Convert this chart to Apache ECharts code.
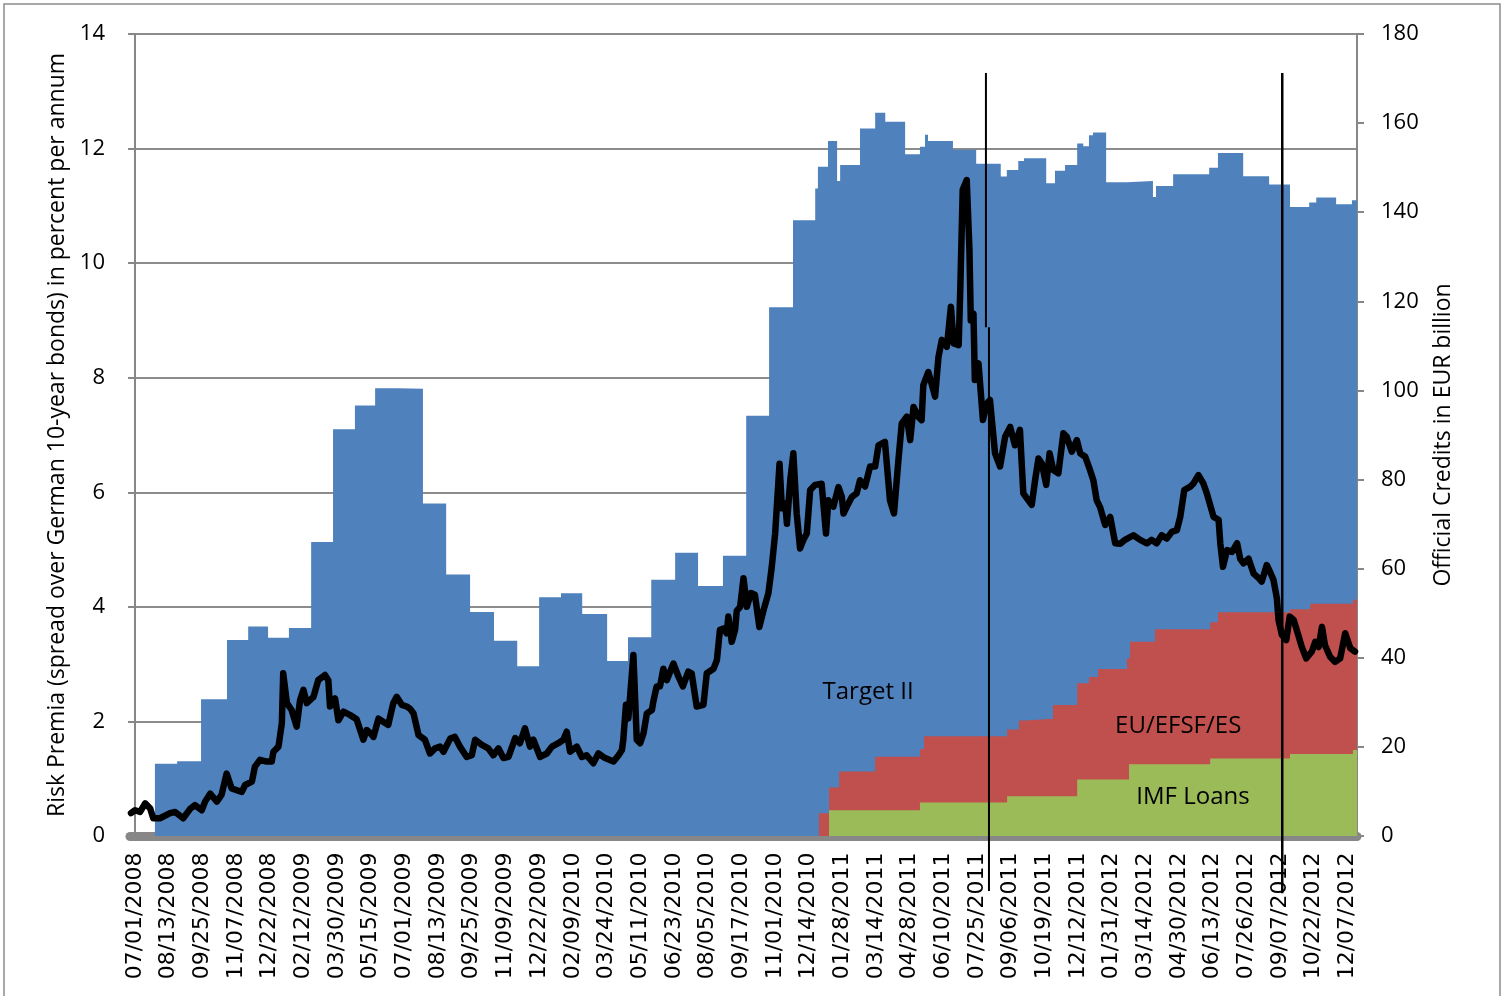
<!DOCTYPE html>
<html>
<head>
<meta charset="utf-8">
<script src="https://cdn.jsdelivr.net/npm/echarts@6/dist/echarts.min.js"></script>
<style>
  html, body { margin: 0; padding: 0; background: #fff; }
  #main { width: 1506px; height: 996px; }
</style>
</head>
<body>
<div id="main"></div>
<script>
// x positions are in label steps: one tick label every 31 trading days
const dateLabels = [
  '07/01/2008', '08/13/2008', '09/25/2008', '11/07/2008', '12/22/2008',
  '02/12/2009', '03/30/2009', '05/15/2009', '07/01/2009', '08/13/2009',
  '09/25/2009', '11/09/2009', '12/22/2009', '02/09/2010', '03/24/2010',
  '05/11/2010', '06/23/2010', '08/05/2010', '09/17/2010', '11/01/2010',
  '12/14/2010', '01/28/2011', '03/14/2011', '04/28/2011', '06/10/2011',
  '07/25/2011', '09/06/2011', '10/19/2011', '12/12/2011', '01/31/2012',
  '03/14/2012', '04/30/2012', '06/13/2012', '07/26/2012', '09/07/2012',
  '10/22/2012', '12/07/2012'
];
const leftTicks = [0, 2, 4, 6, 8, 10, 12, 14];
const rightTicks = [0, 20, 40, 60, 80, 100, 120, 140, 160, 180];

// total official credits (top of the blue area), EUR bn, monthly steps
const targetTop = [
  [0.59, 16.2], [1.25, 16.8], [1.96, 30.7], [2.73, 44.0], [3.36, 47.0], [3.95, 44.5],
  [4.57, 46.7], [5.23, 66.0], [5.88, 91.3], [6.53, 96.6], [7.13, 100.5], [7.81, 100.4],
  [8.55, 74.6], [9.24, 58.7], [9.95, 50.3], [10.66, 43.8], [11.35, 38.1], [12.0, 53.6],
  [12.65, 54.5], [13.28, 49.8], [14.02, 39.3], [14.64, 44.6], [15.33, 57.5], [16.04, 63.6],
  [16.72, 56.1], [17.46, 62.9], [18.15, 94.3], [18.83, 118.7], [19.54, 138.2], [20.2, 145.3],
  [20.28, 150.2], [20.58, 156.0], [20.85, 147.0], [20.94, 150.6], [21.53, 158.8], [21.98, 162.3],
  [22.28, 160.3], [22.87, 153.0], [23.31, 154.7], [23.46, 157.4], [23.55, 156.0], [24.29, 154.0],
  [24.98, 150.9], [25.71, 148.0], [25.89, 149.5], [26.23, 151.5], [26.4, 152.1], [27.06, 146.5],
  [27.32, 149.3], [27.62, 150.6], [27.98, 155.4], [28.16, 154.8], [28.33, 157.3], [28.45, 157.9],
  [28.84, 146.7], [29.46, 147.0], [30.23, 143.4], [30.32, 145.9], [30.83, 148.5], [31.9, 150.0],
  [32.16, 153.3], [32.91, 148.1], [33.68, 146.2], [34.3, 141.2], [34.87, 142.2], [35.08, 143.3],
  [35.67, 141.8], [36.14, 142.7], [36.29, 142.7]
];
// EU/EFSF/ES (top of red area)
const euTop = [
  [20.31, 5.1], [20.61, 10.9], [20.91, 14.5], [21.98, 17.8], [23.31, 19.5], [23.43, 22.4],
  [25.9, 23.9], [26.25, 25.9], [26.43, 26.3], [27.26, 29.4], [27.98, 34.3], [28.33, 35.7],
  [28.6, 37.5], [29.46, 39.9], [29.55, 43.6], [30.29, 46.4], [31.93, 48.0], [32.16, 50.2],
  [34.3, 50.9], [34.9, 52.1], [36.17, 53.0], [36.29, 53.0]
];
// IMF loans (green area)
const imfTop = [
  [20.61, 5.8], [23.31, 7.5], [25.9, 8.9], [27.98, 12.7], [29.52, 16.1],
  [31.93, 17.4], [34.3, 18.4], [36.17, 19.3], [36.29, 19.3]
];

// spread over German 10-year bonds, percent
const spread = [
  [-0.12, 0.40], [0.00, 0.45], [0.15, 0.42], [0.30, 0.57], [0.45, 0.48], [0.54, 0.31],
  [0.74, 0.31], [1.04, 0.40], [1.19, 0.42], [1.43, 0.31], [1.63, 0.47], [1.78, 0.54],
  [1.98, 0.45], [2.08, 0.60], [2.23, 0.74], [2.43, 0.60], [2.57, 0.72], [2.72, 1.09],
  [2.87, 0.83], [3.17, 0.77], [3.27, 0.89], [3.47, 0.95], [3.56, 1.21], [3.71, 1.33],
  [3.91, 1.30], [4.06, 1.30], [4.11, 1.47], [4.26, 1.56], [4.36, 1.97], [4.40, 2.84],
  [4.51, 2.32], [4.65, 2.20], [4.80, 1.91], [4.90, 2.37], [5.00, 2.55], [5.10, 2.32],
  [5.30, 2.43], [5.44, 2.72], [5.64, 2.81], [5.74, 2.72], [5.79, 2.26], [5.94, 2.40],
  [6.04, 2.02], [6.19, 2.17], [6.39, 2.11], [6.58, 2.04], [6.78, 1.68], [6.88, 1.85],
  [6.98, 1.80], [7.08, 1.73], [7.23, 2.05], [7.38, 1.99], [7.52, 1.94], [7.67, 2.32],
  [7.77, 2.43], [7.92, 2.29], [8.07, 2.26], [8.17, 2.22], [8.27, 2.14], [8.42, 1.76],
  [8.61, 1.68], [8.76, 1.44], [8.91, 1.53], [9.06, 1.56], [9.16, 1.47], [9.36, 1.70],
  [9.50, 1.73], [9.65, 1.56], [9.85, 1.38], [10.00, 1.41], [10.10, 1.68], [10.30, 1.59],
  [10.49, 1.53], [10.64, 1.41], [10.79, 1.53], [10.94, 1.36], [11.09, 1.38], [11.29, 1.71],
  [11.43, 1.62], [11.58, 1.88], [11.73, 1.56], [11.83, 1.68], [12.03, 1.38], [12.23, 1.44],
  [12.38, 1.56], [12.57, 1.62], [12.72, 1.68], [12.82, 1.82], [12.92, 1.47], [13.12, 1.56],
  [13.27, 1.38], [13.41, 1.41], [13.61, 1.27], [13.76, 1.44], [13.96, 1.36], [14.21, 1.30],
  [14.36, 1.41], [14.46, 1.50], [14.50, 1.68], [14.58, 2.29], [14.65, 2.05], [14.80, 3.16],
  [14.90, 1.68], [15.00, 1.62], [15.10, 1.79], [15.20, 2.14], [15.35, 2.20], [15.39, 2.34],
  [15.49, 2.61], [15.59, 2.61], [15.69, 2.92], [15.79, 2.72], [15.99, 3.01], [16.14, 2.78],
  [16.27, 2.61], [16.43, 2.87], [16.53, 2.84], [16.68, 2.26], [16.88, 2.29], [16.98, 2.84],
  [17.18, 2.92], [17.28, 3.07], [17.37, 3.60], [17.47, 3.62], [17.57, 3.54], [17.62, 3.83],
  [17.72, 3.39], [17.82, 3.60], [17.87, 3.93], [17.97, 4.00], [18.07, 4.50], [18.17, 4.00],
  [18.29, 4.24], [18.41, 4.21], [18.54, 3.65], [18.66, 3.93], [18.81, 4.24], [18.91, 4.70],
  [19.01, 5.28], [19.14, 6.50], [19.21, 5.72], [19.31, 5.80], [19.36, 5.45], [19.46, 6.22],
  [19.55, 6.68], [19.65, 5.63], [19.75, 5.02], [19.85, 5.17], [19.95, 5.28], [20.05, 6.04],
  [20.20, 6.13], [20.39, 6.15], [20.52, 5.28], [20.59, 5.86], [20.74, 5.75], [20.89, 6.09],
  [20.99, 5.92], [21.04, 5.63], [21.14, 5.75], [21.29, 5.92], [21.43, 5.98], [21.53, 6.21],
  [21.68, 6.10], [21.83, 6.45], [21.98, 6.45], [22.08, 6.82], [22.27, 6.88], [22.42, 5.86],
  [22.54, 5.63], [22.67, 6.56], [22.77, 7.20], [22.92, 7.32], [23.02, 6.91], [23.12, 7.49],
  [23.26, 7.32], [23.36, 7.26], [23.41, 7.87], [23.56, 8.10], [23.76, 7.67], [23.86, 8.36],
  [23.96, 8.66], [24.11, 8.54], [24.23, 9.24], [24.31, 8.60], [24.46, 8.57], [24.51, 9.59],
  [24.58, 11.28], [24.70, 11.45], [24.78, 10.23], [24.82, 9.00], [24.90, 9.12], [24.94, 7.96],
  [25.05, 8.25], [25.18, 7.26], [25.30, 7.55], [25.39, 7.61], [25.54, 6.68], [25.69, 6.45],
  [25.84, 6.97], [25.99, 7.14], [26.13, 6.82], [26.28, 7.09], [26.38, 5.98], [26.53, 5.86],
  [26.63, 5.78], [26.73, 6.21], [26.83, 6.59], [26.93, 6.50], [27.06, 6.13], [27.16, 6.68],
  [27.27, 6.39], [27.42, 6.33], [27.57, 7.03], [27.67, 6.97], [27.82, 6.71], [27.97, 6.91],
  [28.07, 6.68], [28.22, 6.62], [28.36, 6.39], [28.46, 6.21], [28.56, 5.86], [28.66, 5.74],
  [28.81, 5.43], [28.96, 5.57], [29.11, 5.11], [29.26, 5.10], [29.40, 5.17], [29.65, 5.25],
  [29.85, 5.17], [30.05, 5.11], [30.19, 5.17], [30.34, 5.11], [30.49, 5.25], [30.64, 5.19],
  [30.79, 5.31], [30.94, 5.34], [31.04, 5.57], [31.16, 6.04], [31.34, 6.10], [31.43, 6.15],
  [31.58, 6.30], [31.73, 6.15], [31.83, 5.98], [31.88, 6.01], [32.03, 5.57], [32.18, 5.52],
  [32.23, 5.11], [32.31, 4.70], [32.43, 4.99], [32.58, 4.96], [32.73, 5.11], [32.82, 4.84],
  [32.92, 4.76], [33.07, 4.84], [33.22, 4.58], [33.37, 4.50], [33.46, 4.44], [33.61, 4.73],
  [33.71, 4.61], [33.81, 4.47], [33.91, 4.15], [33.96, 3.77], [34.06, 3.51], [34.19, 3.42],
  [34.29, 3.83], [34.41, 3.77], [34.53, 3.54], [34.65, 3.30], [34.78, 3.10], [34.95, 3.22],
  [35.05, 3.39], [35.15, 3.30], [35.25, 3.65], [35.34, 3.33], [35.49, 3.13], [35.64, 3.04],
  [35.79, 3.10], [35.94, 3.54], [36.09, 3.28], [36.23, 3.22]
];

// vertical marker lines, in (x step, left axis value)
const markers = [
  [[25.27, 13.32], [25.27, 8.88]],
  [[25.36, 8.88], [25.36, -0.96]],
  [[34.07, 13.32], [34.07, -1.0]]
];
// in-chart labels, anchored on the right axis scale
const areaLabels = [
  { text: 'Target II', at: [21.77, 32.3] },
  { text: 'EU/EFSF/ES', at: [30.98, 24.7] },
  { text: 'IMF Loans', at: [31.42, 8.8] }
];

const myChart = echarts.init(document.getElementById('main'));

const areaSeries = (name, data, color) => ({
  name: name,
  type: 'line',
  yAxisIndex: 1,
  step: 'end',
  data: data,
  showSymbol: false,
  lineStyle: { width: 0 },
  areaStyle: { color: color, opacity: 1 },
  itemStyle: { color: color },
  silent: true,
  animation: false
});

const numFont = { fontFamily: 'Open Sans', fontSize: 22, color: '#000' };
const titleFont = { fontFamily: 'Open Sans', fontSize: 23, color: '#000' };

const option = {
  backgroundColor: '#fff',
  animation: false,
  grid: { left: 130, right: 149, top: 34, bottom: 160, containLabel: false },
  xAxis: {
    type: 'value',
    min: -0.15,
    max: 36.29,
    offset: 4.5,
    axisLine: { show: true, lineStyle: { color: '#878787', width: 9 } },
    axisTick: { show: false },
    splitLine: { show: false },
    axisLabel: {
      customValues: dateLabels.map((d, i) => i),
      formatter: v => dateLabels[Math.round(v)] || '',
      rotate: 90,
      margin: 12,
      fontFamily: 'DejaVu Sans',
      fontSize: 22,
      color: '#000'
    }
  },
  yAxis: [
    {
      type: 'value',
      min: leftTicks[0],
      max: leftTicks[leftTicks.length - 1],
      interval: 2,
      position: 'left',
      name: 'Risk Premia (spread over German 10-year bonds) in percent per annum',
      nameLocation: 'middle',
      nameRotate: 90,
      nameGap: 58,
      nameTextStyle: titleFont,
      axisLine: { show: true, lineStyle: { color: '#878787', width: 2 } },
      axisTick: { show: true, inside: false, length: 7, lineStyle: { color: '#878787', width: 2 } },
      splitLine: { show: true, lineStyle: { color: '#8c8c8c', width: 2 } },
      axisLabel: Object.assign({ margin: 25 }, numFont)
    },
    {
      type: 'value',
      min: rightTicks[0],
      max: rightTicks[rightTicks.length - 1],
      interval: 20,
      position: 'right',
      name: 'Official Credits in EUR billion',
      nameLocation: 'middle',
      nameRotate: 90,
      nameGap: 75,
      nameTextStyle: titleFont,
      axisLine: { show: true, lineStyle: { color: '#878787', width: 2 } },
      axisTick: { show: true, inside: false, length: 7, lineStyle: { color: '#878787', width: 2 } },
      splitLine: { show: false },
      axisLabel: Object.assign({ margin: 24 }, numFont)
    }
  ],
  series: [
    areaSeries('Target II', targetTop, '#4f81bd'),
    areaSeries('EU/EFSF/ES', euTop, '#c0504d'),
    areaSeries('IMF Loans', imfTop, '#9bbb59'),
    {
      name: 'Risk Premia',
      type: 'line',
      yAxisIndex: 0,
      data: spread,
      showSymbol: false,
      lineStyle: { color: '#000', width: 6.5, join: 'round', cap: 'round' },
      z: 5
    }
  ]
};

myChart.setOption(option);

// marker lines and area captions placed through the chart's own scales
const graphics = [];
markers.forEach((m, i) => {
  const p0 = myChart.convertToPixel({ xAxisIndex: 0, yAxisIndex: 0 }, m[0]);
  const p1 = myChart.convertToPixel({ xAxisIndex: 0, yAxisIndex: 0 }, m[1]);
  graphics.push({
    type: 'line',
    shape: { x1: p0[0], y1: p0[1], x2: p1[0], y2: p1[1] },
    style: { stroke: '#000', lineWidth: i === 2 ? 2.5 : 2 },
    z: 10
  });
});
areaLabels.forEach(l => {
  const p = myChart.convertToPixel({ xAxisIndex: 0, yAxisIndex: 1 }, l.at);
  graphics.push({
    type: 'text',
    x: p[0],
    y: p[1],
    style: {
      text: l.text,
      fontFamily: 'Open Sans',
      fontSize: 24,
      fill: '#000',
      align: 'center',
      verticalAlign: 'middle'
    },
    z: 10
  });
});
graphics.push({
  type: 'rect',
  shape: { x: 4, y: 4, width: 1496, height: 1000 },
  style: { fill: null, stroke: '#8c8c8c', lineWidth: 1.5 },
  z: 0
});
myChart.setOption({ graphic: graphics });
</script>
</body>
</html>
